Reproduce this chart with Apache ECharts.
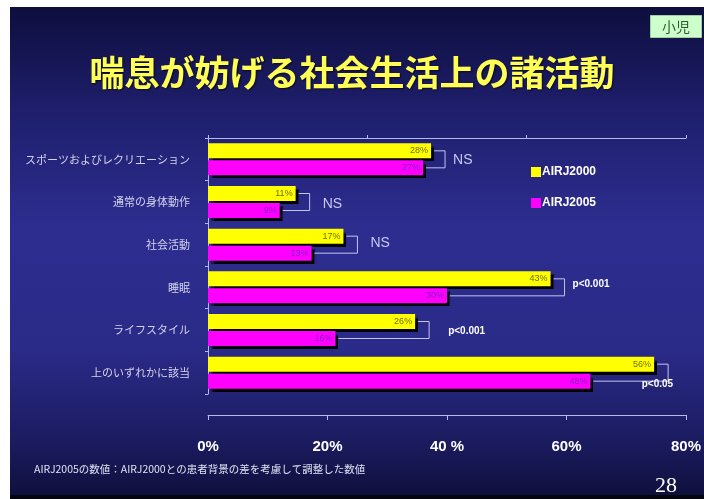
<!DOCTYPE html>
<html>
<head>
<meta charset="utf-8">
<script src="https://cdn.jsdelivr.net/npm/echarts@6/dist/echarts.min.js"></script>
<style>
  html, body { margin: 0; padding: 0; background: #ffffff; }
  #chart { width: 704px; height: 499px; }
</style>
</head>
<body>
<div id="chart"></div>
<script>
// Activities limited by asthma (children), AIRJ 2000 vs AIRJ 2005
const categories = ['スポーツおよびレクリエーション', '通常の身体動作', '社会活動', '睡眠', 'ライフスタイル', '上のいずれかに該当'];
const airj2000 = [28, 11, 17, 43, 26, 56];
const airj2005 = [27, 9, 13, 30, 16, 48];
const significance = ['NS', 'NS', 'NS', 'p<0.001', 'p<0.001', 'p<0.05'];
const tickLabels = ['0%', '20%', '40 %', '60%', '80%'];
const seriesNames = ['AIRJ2000', 'AIRJ2005'];

// scale of the value axis
const axisMax = 60;
const bottomStep = 15;
const topStep = 20;

// drawing parameters
const BAR_W = 15;
const BAR_GAP = 2;
const JP = '"Noto Sans CJK JP", sans-serif';
const LAT = '"Liberation Sans", Arial, sans-serif';
const axisColor = '#b8b8ec';

// placement of each significance note relative to its bracket
const noteOffsets = [
  { dx: 8, dy: 1, align: 'left', ns: true },
  { dx: 13, dy: 2, align: 'left', ns: true },
  { dx: 13, dy: -2, align: 'left', ns: true },
  { dx: 8, dy: -3, align: 'left', ns: false },
  { dx: 19, dy: 1, align: 'left', ns: false },
  { dx: 5, dy: 12, align: 'right', ns: false }
];

const chart = echarts.init(document.getElementById('chart'), null, { renderer: 'canvas' });

function bracketItem(params, api) {
  const a = api.value(0);
  const cat = api.value(1);
  const b = api.value(2);
  const yc = api.coord([0, cat])[1];
  const xa = api.coord([a, cat])[0];
  const xb = api.coord([b, cat])[0];
  const bx = Math.max(xa, xb) + 14;
  const off = (BAR_W + BAR_GAP) / 2;
  const yTop = yc - off;
  const yBot = yc + off;
  const lay = noteOffsets[params.dataIndex];
  const text = significance[params.dataIndex];
  return {
    type: 'group',
    children: [
      {
        type: 'polyline',
        shape: { points: [[xa + 3, yTop], [bx, yTop], [bx, yBot], [xb + 3, yBot]] },
        style: { stroke: '#c4c4f0', lineWidth: 1, fill: null }
      },
      {
        type: 'text',
        style: {
          text: text,
          x: bx + lay.dx,
          y: yc + lay.dy,
          align: lay.align,
          verticalAlign: 'middle',
          fill: lay.ns ? '#c8c8f0' : '#ffffff',
          font: lay.ns ? ('14px ' + LAT) : ('bold 10px ' + LAT)
        }
      }
    ]
  };
}

const option = {
  animation: false,
  title: {
    text: '喘息が妨げる社会生活上の諸活動',
    left: 'center',
    top: 50,
    textStyle: {
      color: '#ffff55',
      fontSize: 35,
      fontWeight: 'bold',
      fontFamily: JP,
      textShadowColor: 'rgba(0,0,0,0.7)',
      textShadowBlur: 2,
      textShadowOffsetX: 1,
      textShadowOffsetY: 1
    }
  },
  legend: {
    orient: 'vertical',
    left: 526,
    top: 161,
    itemWidth: 10,
    itemHeight: 10,
    itemGap: 19,
    icon: 'rect',
    data: seriesNames,
    textStyle: { color: '#ffffff', fontSize: 12, fontWeight: 'bold', fontFamily: LAT, padding: [0, 0, 0, -4] }
  },
  grid: { left: 208, right: 16, top: 138, bottom: 105 },
  xAxis: [
    {
      type: 'value',
      position: 'top',
      min: 0,
      max: axisMax,
      interval: topStep,
      axisLine: { show: true, lineStyle: { color: axisColor, width: 1 } },
      axisTick: { show: true, length: 3, lineStyle: { color: axisColor } },
      axisLabel: { show: false },
      splitLine: { show: false }
    },
    {
      type: 'value',
      position: 'bottom',
      offset: 21,
      min: 0,
      max: axisMax,
      interval: bottomStep,
      axisLine: { show: true, lineStyle: { color: axisColor, width: 1 } },
      axisTick: { show: true, length: 5, lineStyle: { color: axisColor } },
      axisLabel: {
        color: '#ffffff',
        fontSize: 15,
        fontWeight: 'bold',
        fontFamily: LAT,
        margin: 24,
        formatter: function (v) { return tickLabels[Math.round(v / bottomStep)]; }
      },
      splitLine: { show: false }
    }
  ],
  yAxis: {
    type: 'category',
    inverse: true,
    data: categories,
    axisLine: { show: true, lineStyle: { color: axisColor, width: 1 } },
    axisTick: { show: true, length: 3, lineStyle: { color: axisColor } },
    axisLabel: { color: '#d2d2ec', fontSize: 11, fontFamily: JP, margin: 18 }
  },
  series: [
    {
      name: seriesNames[0],
      type: 'bar',
      xAxisIndex: 1,
      data: airj2000,
      barWidth: BAR_W,
      barGap: '13%',
      itemStyle: {
        color: '#ffff00',
        shadowColor: 'rgba(0,0,0,0.95)',
        shadowBlur: 1,
        shadowOffsetX: 3,
        shadowOffsetY: 3
      },
      label: {
        show: true,
        position: 'insideRight',
        distance: 3,
        formatter: '{c}%',
        color: '#6e6e00',
        fontSize: 9,
        fontFamily: LAT
      }
    },
    {
      name: seriesNames[1],
      type: 'bar',
      xAxisIndex: 1,
      data: airj2005,
      barWidth: BAR_W,
      barGap: '13%',
      itemStyle: {
        color: '#ff00ff',
        shadowColor: 'rgba(0,0,0,0.95)',
        shadowBlur: 1,
        shadowOffsetX: 3,
        shadowOffsetY: 3
      },
      label: {
        show: true,
        position: 'insideRight',
        distance: 3,
        formatter: '{c}%',
        color: '#8a1cc0',
        fontSize: 9,
        fontFamily: LAT
      }
    },
    {
      name: 'brackets',
      type: 'custom',
      xAxisIndex: 1,
      renderItem: bracketItem,
      encode: { x: [0, 2], y: 1 },
      data: categories.map(function (_, i) { return [airj2000[i], i, airj2005[i]]; }),
      silent: true,
      z: 5
    }
  ],
  graphic: [
    {
      type: 'rect',
      z: -10,
      silent: true,
      shape: { x: 10, y: 7, width: 694, height: 490 },
      style: {
        fill: new echarts.graphic.LinearGradient(0, 0, 0, 1, [
          { offset: 0, color: '#0e0e3e' },
          { offset: 0.22, color: '#1f1f6e' },
          { offset: 0.45, color: '#2d2d90' },
          { offset: 0.7, color: '#2a2a88' },
          { offset: 0.88, color: '#1c1c62' },
          { offset: 1, color: '#0f0f3c' }
        ])
      }
    },
    {
      type: 'rect',
      z: -9,
      silent: true,
      shape: { x: 10, y: 495, width: 694, height: 4 },
      style: { fill: '#050510' }
    },
    {
      type: 'group',
      left: 650,
      top: 15,
      children: [
        { type: 'rect', shape: { x: 0, y: 0, width: 51, height: 22 }, style: { fill: '#ccffcc', stroke: '#9fd09f', lineWidth: 1 } },
        { type: 'text', style: { text: '小児', x: 25.5, y: 11, align: 'center', verticalAlign: 'middle', fill: '#2f5a2f', font: '14px ' + JP } }
      ]
    },
    {
      type: 'text',
      left: 34,
      top: 464,
      style: { text: 'AIRJ2005の数値：AIRJ2000との患者背景の差を考慮して調整した数値', fill: '#e0e0f4', font: '10.5px ' + JP }
    },
    {
      type: 'text',
      left: 655,
      top: 475,
      style: { text: '28', fill: '#ffffff', font: '22px "Liberation Serif", serif' }
    }
  ]
};

chart.setOption(option);
</script>
</body>
</html>
